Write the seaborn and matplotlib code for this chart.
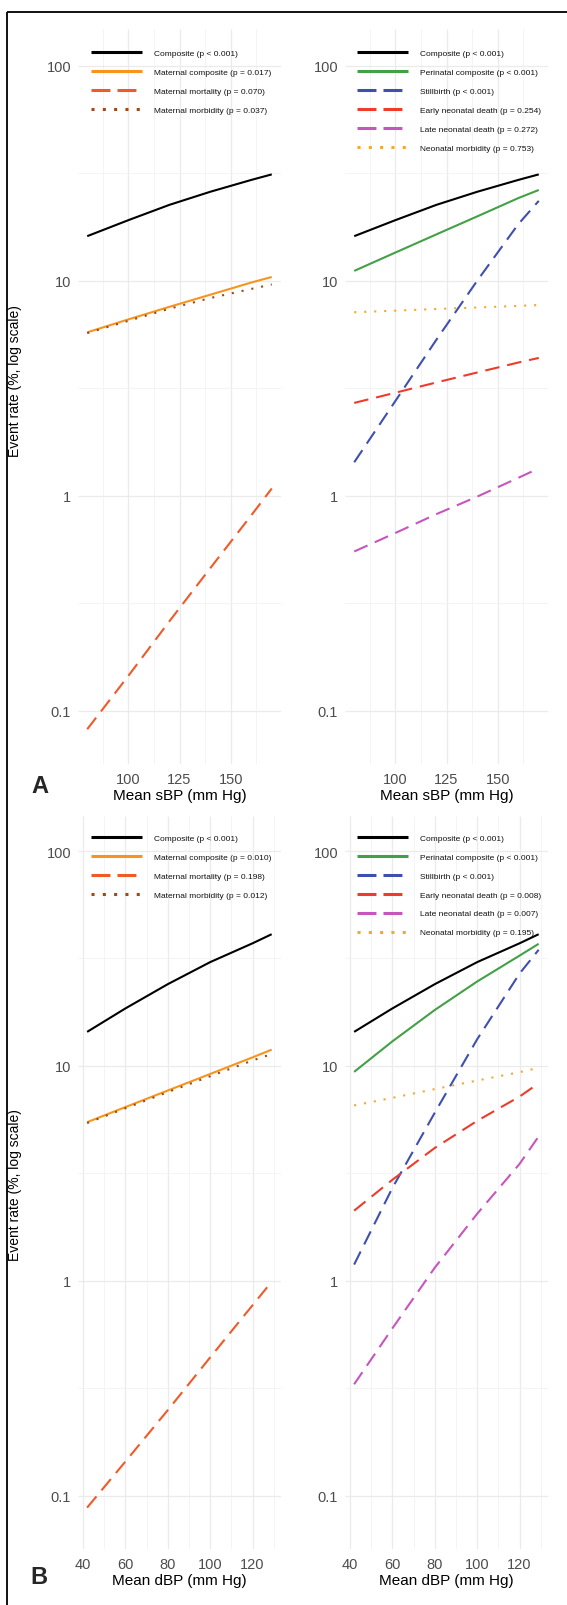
import numpy as np
import pandas as pd
import matplotlib
matplotlib.use("Agg")
import matplotlib.pyplot as plt
from matplotlib.lines import Line2D
from matplotlib.ticker import FixedLocator, FixedFormatter, NullFormatter
import seaborn as sns

# ---------------- data ----------------
sbp = [80, 100, 120, 140, 160, 170]
dbp = [42, 60, 80, 100, 120, 129]

# Panel A (sBP), maternal
A_composite = [16.1, 19.1, 22.5, 25.9, 29.4, 31.2]
A_mat_comp = [5.75, 6.6, 7.55, 8.6, 9.8, 10.4]
A_mat_mort = [0.082, 0.145, 0.26, 0.46, 0.81, 1.08]
A_mat_morb = [5.7, 6.5, 7.4, 8.3, 9.15, 9.6]
# Panel A (sBP), perinatal
A_peri_comp = [11.1, 13.5, 16.4, 19.9, 24.2, 26.4]
A_stillbirth = [1.43, 2.75, 5.3, 10.0, 18.3, 23.5]
A_early_neo = [2.70, 3.01, 3.36, 3.74, 4.16, 4.37]
A_late_neo = [0.55, 0.67, 0.82, 0.99, 1.21, 1.34]
A_neo_morb = [7.13, 7.25, 7.38, 7.5, 7.63, 7.7]

# Panel B (dBP), maternal
B_composite = [14.4, 18.5, 24.0, 30.4, 37.2, 41.0]
B_mat_comp = [5.47, 6.43, 7.68, 9.17, 10.96, 11.9]
B_mat_mort = [0.088, 0.144, 0.25, 0.44, 0.77, 0.99]
B_mat_morb = [5.42, 6.35, 7.55, 8.95, 10.6, 11.35]
# Panel B (dBP), perinatal
B_peri_comp = [9.38, 13.0, 18.2, 24.7, 32.6, 37.0]
B_stillbirth = [1.19, 2.7, 6.05, 13.3, 26.9, 34.7]
B_early_neo = [2.12, 2.95, 4.15, 5.55, 7.2, 8.3]
B_late_neo = [0.33, 0.60, 1.15, 2.05, 3.5, 4.7]
B_neo_morb = [6.55, 7.1, 7.8, 8.55, 9.35, 9.8]

maternal_series = ["Composite", "Maternal composite", "Maternal mortality", "Maternal morbidity"]
perinatal_series = ["Composite", "Perinatal composite", "Stillbirth", "Early neonatal death",
                    "Late neonatal death", "Neonatal morbidity"]

A_maternal_labels = ["Composite (p < 0.001)", "Maternal composite (p = 0.017)",
                     "Maternal mortality (p = 0.070)", "Maternal morbidity (p = 0.037)"]
A_perinatal_labels = ["Composite (p < 0.001)", "Perinatal composite (p < 0.001)",
                      "Stillbirth (p < 0.001)", "Early neonatal death (p = 0.254)",
                      "Late neonatal death (p = 0.272)", "Neonatal morbidity (p = 0.753)"]
B_maternal_labels = ["Composite (p < 0.001)", "Maternal composite (p = 0.010)",
                     "Maternal mortality (p = 0.198)", "Maternal morbidity (p = 0.012)"]
B_perinatal_labels = ["Composite (p < 0.001)", "Perinatal composite (p < 0.001)",
                      "Stillbirth (p < 0.001)", "Early neonatal death (p = 0.008)",
                      "Late neonatal death (p = 0.007)", "Neonatal morbidity (p = 0.195)"]

y_ticks = [0.1, 1, 10, 100]
y_ticklabels = ["0.1", "1", "10", "100"]
sbp_ticks = [100, 125, 150]
dbp_ticks = [40, 60, 80, 100, 120]

# ---------------- styles ----------------
palette = {
    "Composite": "#000000",
    "Maternal composite": "#F7941D",
    "Maternal mortality": "#F05A28",
    "Maternal morbidity": "#9C4A1A",
    "Perinatal composite": "#43A047",
    "Stillbirth": "#3F4FB0",
    "Early neonatal death": "#EE3B2B",
    "Late neonatal death": "#C656BE",
    "Neonatal morbidity": "#F3A830",
}
LONG = (7.0, 3.8)
DOT = (1.0, 3.8)
dash_map = {
    "Composite": "",
    "Maternal composite": "",
    "Maternal mortality": LONG,
    "Maternal morbidity": DOT,
    "Perinatal composite": "",
    "Stillbirth": LONG,
    "Early neonatal death": LONG,
    "Late neonatal death": LONG,
    "Neonatal morbidity": DOT,
}
LEG_LONG = (6.2, 2.3)
LEG_DOT = (1.0, 2.7)
leg_dash = {"": None, LONG: LEG_LONG, DOT: LEG_DOT}

sns.set_theme(style="white")
plt.rcParams["font.family"] = ["Liberation Sans", "DejaVu Sans"]
plt.rcParams["lines.solid_capstyle"] = "butt"
plt.rcParams["lines.dash_capstyle"] = "butt"

W, H = 567, 1606
fig = plt.figure(figsize=(W / 100, H / 100), dpi=100)
fig.patch.set_facecolor("white")


def px_axes(x0, y0, x1, y1):
    return fig.add_axes([x0 / W, 1 - y1 / H, (x1 - x0) / W, (y1 - y0) / H])


def draw_panel(ax, xs, names, values, labels, xlim, ylim, xmaj, xminor, xlabel, leg_px):
    rows = []
    for name, vals in zip(names, values):
        for xv, v in zip(xs, vals):
            rows.append((xv, v, name))
    df = pd.DataFrame(rows, columns=["x", "rate", "series"])
    ax.set_yscale("log")
    sns.lineplot(data=df, x="x", y="rate", hue="series", style="series",
                 hue_order=names, style_order=names,
                 palette={n: palette[n] for n in names},
                 dashes={n: dash_map[n] for n in names},
                 linewidth=1.5, estimator=None, legend=False, ax=ax)
    ax.set_xlim(*xlim)
    ax.set_ylim(*ylim)
    ax.yaxis.set_major_locator(FixedLocator(y_ticks))
    ax.yaxis.set_major_formatter(FixedFormatter(y_ticklabels))
    ax.yaxis.set_minor_locator(FixedLocator([10 ** -0.5, 10 ** 0.5, 10 ** 1.5]))
    ax.yaxis.set_minor_formatter(NullFormatter())
    ax.xaxis.set_major_locator(FixedLocator(xmaj))
    ax.xaxis.set_minor_locator(FixedLocator(xminor))
    ax.grid(which="major", color="#EBEBEB", linewidth=0.9)
    ax.grid(which="minor", color="#F3F3F3", linewidth=0.6)
    ax.set_axisbelow(True)
    for s in ax.spines.values():
        s.set_visible(False)
    ax.tick_params(which="both", length=0, labelsize=10.5, labelcolor="#4D4D4D")
    ax.tick_params(axis="y", pad=5)
    ax.tick_params(axis="x", pad=6)
    ax.set_xlabel(xlabel, fontsize=11, color="black", labelpad=1)
    ax.set_ylabel("")
    handles = []
    for n in names:
        d = leg_dash[dash_map[n]]
        h = Line2D([], [], color=palette[n], linewidth=2.2,
                   solid_capstyle="butt", dash_capstyle="butt")
        if d is not None:
            h.set_dashes(d)
        handles.append(h)
    leg = ax.legend(handles=handles, labels=labels, loc="upper left",
                    bbox_to_anchor=(leg_px[0] / W, 1 - leg_px[1] / H),
                    bbox_transform=fig.transFigure, frameon=False, fontsize=6,
                    handlelength=6.1, handletextpad=1.45, labelspacing=1.33,
                    borderpad=0, borderaxespad=0)
    for t in leg.get_texts():
        t.set_color("#111111")


ylimA = (0.0565, 148)
ylimB = (0.0565, 145.5)

axAL = px_axes(78, 30, 281, 765)
axAR = px_axes(345, 30, 548, 765)
axBL = px_axes(78, 817, 281, 1550)
axBR = px_axes(345, 817, 548, 1550)

draw_panel(axAL, sbp, maternal_series, [A_composite, A_mat_comp, A_mat_mort, A_mat_morb],
           A_maternal_labels, (75.5, 174.5), ylimA, sbp_ticks, [87.5, 112.5, 137.5, 162.5],
           "Mean sBP (mm Hg)", (91, 50.5))
draw_panel(axAR, sbp, perinatal_series,
           [A_composite, A_peri_comp, A_stillbirth, A_early_neo, A_late_neo, A_neo_morb],
           A_perinatal_labels, (75.5, 174.5), ylimA, sbp_ticks, [87.5, 112.5, 137.5, 162.5],
           "Mean sBP (mm Hg)", (357, 50.5))
draw_panel(axBL, dbp, maternal_series, [B_composite, B_mat_comp, B_mat_mort, B_mat_morb],
           B_maternal_labels, (37.7, 133.4), ylimB, dbp_ticks, [50, 70, 90, 110, 130],
           "Mean dBP (mm Hg)", (91, 835))
draw_panel(axBR, dbp, perinatal_series,
           [B_composite, B_peri_comp, B_stillbirth, B_early_neo, B_late_neo, B_neo_morb],
           B_perinatal_labels, (37.7, 133.4), ylimB, dbp_ticks, [50, 70, 90, 110, 130],
           "Mean dBP (mm Hg)", (357, 835))

# y-axis titles
fig.text(15 / W, 1 - 381 / H, "Event rate (%, log scale)", rotation=90, ha="center",
         va="center", fontsize=10, color="black")
fig.text(15 / W, 1 - 1185 / H, "Event rate (%, log scale)", rotation=90, ha="center",
         va="center", fontsize=10, color="black")

# panel letters
fig.text(40 / W, 1 - 787 / H, "A", fontsize=17, fontweight="bold", ha="center", va="center")
fig.text(39 / W, 1 - 1578 / H, "B", fontsize=17, fontweight="bold", ha="center", va="center")

# frame (left and top)
fig.add_artist(Line2D([7.2 / W, 7.2 / W], [0, 1 - 13.3 / H], transform=fig.transFigure,
                      color="#111111", linewidth=1.4))
fig.add_artist(Line2D([7.2 / W, 1.0], [1 - 13.3 / H, 1 - 13.3 / H], transform=fig.transFigure,
                      color="#111111", linewidth=1.4))

fig.savefig("out.png", dpi=100, facecolor="white")
